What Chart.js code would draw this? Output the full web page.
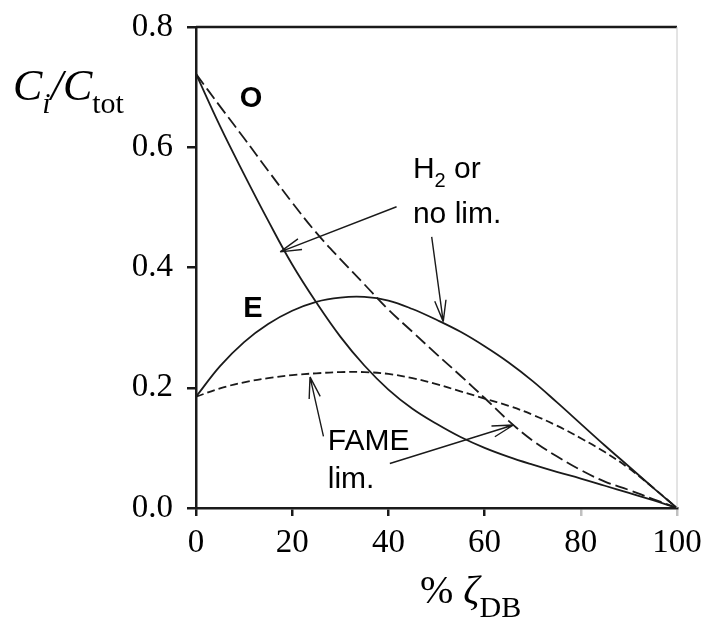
<!DOCTYPE html>
<html>
<head>
<meta charset="utf-8">
<script src="https://cdn.jsdelivr.net/npm/chart.js@4.4.0/dist/chart.umd.min.js"></script>
<style>
  html, body { margin: 0; padding: 0; background: #fff; }
</style>
</head>
<body>
<canvas id="chart" width="704" height="619"></canvas>
<script>
// conversion (% zeta_DB) and the four concentration curves
const zeta = [0, 5, 10, 15, 20, 25, 30, 35, 40, 45, 50, 55, 60, 65, 70, 75, 80, 85, 90, 95, 100];
const oNoLim = [0.722, 0.635, 0.555, 0.478, 0.405, 0.342, 0.285, 0.237, 0.197, 0.165, 0.140, 0.118, 0.100, 0.085, 0.072, 0.060, 0.049, 0.037, 0.025, 0.013, 0];
const eNoLim = [0.185, 0.236, 0.276, 0.306, 0.328, 0.343, 0.350, 0.351, 0.345, 0.331, 0.313, 0.293, 0.269, 0.242, 0.211, 0.176, 0.140, 0.104, 0.069, 0.034, 0];
const oFame = [0.722, 0.668, 0.615, 0.561, 0.508, 0.458, 0.414, 0.372, 0.330, 0.293, 0.256, 0.220, 0.183, 0.145, 0.112, 0.086, 0.063, 0.044, 0.030, 0.015, 0];
const eFame = [0.185, 0.199, 0.209, 0.216, 0.221, 0.224, 0.226, 0.226, 0.223, 0.216, 0.206, 0.194, 0.182, 0.170, 0.155, 0.137, 0.116, 0.093, 0.066, 0.034, 0];
const xTicks = [0, 20, 40, 60, 80, 100];
const yTicks = [0, 0.2, 0.4, 0.6, 0.8];

// labels and arrows inside the plot, in data units
const notes = [
  { at: [9.1, 0.667], parts: [['O', 'b']] },
  { at: [9.8, 0.318], parts: [['E', 'b']] },
  { at: [45.1, 0.549], parts: [['H', 'n'], ['2', 's'], [' or', 'n']] },
  { at: [45.1, 0.474], parts: [['no lim.', 'n']] },
  { at: [27.4, 0.0965], parts: [['FAME', 'n']] },
  { at: [27.4, 0.033], parts: [['lim.', 'n']] }
];
const arrows = [
  { from: [41.7, 0.501], to: [17.5, 0.426] },
  { from: [49.0, 0.451], to: [51.4, 0.310] },
  { from: [26.5, 0.119], to: [23.7, 0.218] },
  { from: [40.3, 0.074], to: [66.0, 0.138] }
];

const SERIF = '"Liberation Serif", "Times New Roman", serif';
const SANS = '"Liberation Sans", Arial, sans-serif';
const INK = '#1a1a1a';

function pts(ys) {
  return zeta.map((x, i) => ({ x: x, y: ys[i] }));
}

function line(data, dash) {
  return {
    data: data,
    borderColor: INK,
    borderWidth: 1.8,
    borderDash: dash,
    pointRadius: 0,
    fill: false,
    tension: 0.4
  };
}

function arrow(ctx, x0, y0, x1, y1) {
  const ang = Math.atan2(y0 - y1, x0 - x1);
  ctx.beginPath();
  ctx.moveTo(x0, y0);
  ctx.lineTo(x1, y1);
  [-0.26, 0.26].forEach(d => {
    ctx.moveTo(x1, y1);
    ctx.lineTo(x1 + 22 * Math.cos(ang + d), y1 + 22 * Math.sin(ang + d));
  });
  ctx.stroke();
}

const decor = {
  id: 'decor',
  afterDraw(chart) {
    const { ctx, chartArea: a } = chart;
    const sx = chart.scales.x, sy = chart.scales.y;
    ctx.save();

    // top frame and the faint right edge
    ctx.strokeStyle = INK;
    ctx.lineWidth = 2.5;
    ctx.beginPath();
    ctx.moveTo(a.left, a.top);
    ctx.lineTo(a.right, a.top);
    ctx.stroke();
    ctx.strokeStyle = '#c8c8c8';
    ctx.lineWidth = 1;
    ctx.beginPath();
    ctx.moveTo(a.right, a.top);
    ctx.lineTo(a.right, a.bottom);
    ctx.stroke();

    // y title  C_i / C_tot
    ctx.fillStyle = '#000';
    ctx.textBaseline = 'alphabetic';
    let tx = 13;
    ctx.font = 'italic 44px ' + SERIF;
    ctx.fillText('C', tx, 100); tx += ctx.measureText('C').width;
    ctx.font = 'italic 30px ' + SERIF;
    ctx.fillText('i', tx, 113); tx += ctx.measureText('i').width;
    ctx.font = 'italic 44px ' + SERIF;
    ctx.fillText('/', tx, 100); tx += ctx.measureText('/').width;
    ctx.fillText('C', tx, 100); tx += ctx.measureText('C').width;
    ctx.font = '30px ' + SERIF;
    ctx.fillText('tot', tx, 113);

    // x title  % zeta_DB
    tx = 420;
    ctx.font = '40px ' + SERIF;
    ctx.fillText('% ', tx, 603); tx += ctx.measureText('% ').width;
    ctx.font = 'italic 40px ' + SERIF;
    ctx.fillText('ζ', tx, 603); tx += ctx.measureText('ζ').width;
    ctx.font = '30px ' + SERIF;
    ctx.fillText('DB', tx, 617);

    // annotations
    notes.forEach(n => {
      let px = sx.getPixelForValue(n.at[0]);
      const py = sy.getPixelForValue(n.at[1]);
      n.parts.forEach(([t, kind]) => {
        if (kind === 'b') ctx.font = 'bold 29px ' + SANS;
        else if (kind === 's') ctx.font = '20px ' + SANS;
        else ctx.font = '30px ' + SANS;
        ctx.fillText(t, px, kind === 's' ? py + 9 : py);
        px += ctx.measureText(t).width;
      });
    });

    ctx.strokeStyle = INK;
    ctx.lineWidth = 1.4;
    arrows.forEach(r => {
      arrow(ctx,
        sx.getPixelForValue(r.from[0]), sy.getPixelForValue(r.from[1]),
        sx.getPixelForValue(r.to[0]), sy.getPixelForValue(r.to[1]));
    });
    ctx.restore();
  }
};

new Chart(document.getElementById('chart'), {
  type: 'line',
  data: {
    datasets: [
      line(pts(oNoLim), []),
      line(pts(eNoLim), []),
      line(pts(oFame), [13, 5]),
      line(pts(eFame), [8, 4])
    ]
  },
  options: {
    responsive: false,
    animation: false,
    layout: { padding: { top: 27, right: 27, left: 0, bottom: 0 } },
    plugins: { legend: { display: false }, tooltip: { enabled: false } },
    scales: {
      x: {
        type: 'linear',
        min: 0,
        max: 100,
        afterBuildTicks: s => { s.ticks = xTicks.map(v => ({ value: v })); },
        // plot box is fixed: 196..677 wide, 27..508 high
        afterFit: s => { s.height = 111; s.paddingLeft = 0; s.paddingRight = 0; },
        border: { color: INK, width: 2.5 },
        grid: {
          drawOnChartArea: false,
          tickLength: 8,
          lineWidth: 2.5,
          color: c => (c.tick && c.tick.value >= 80 ? '#c0c0c0' : INK)
        },
        ticks: { color: '#000', padding: 8, font: { family: SERIF, size: 33 } }
      },
      y: {
        min: 0,
        max: 0.8,
        afterBuildTicks: s => { s.ticks = yTicks.map(v => ({ value: v })); },
        afterFit: s => { s.width = 196; s.paddingTop = 0; s.paddingBottom = 0; },
        border: { color: INK, width: 2.5 },
        grid: { drawOnChartArea: false, tickLength: 9, lineWidth: 2.5, color: INK },
        ticks: {
          color: '#000',
          padding: 14,
          font: { family: SERIF, size: 33 },
          callback: v => v.toFixed(1)
        }
      }
    }
  },
  plugins: [decor]
});
</script>
</body>
</html>
